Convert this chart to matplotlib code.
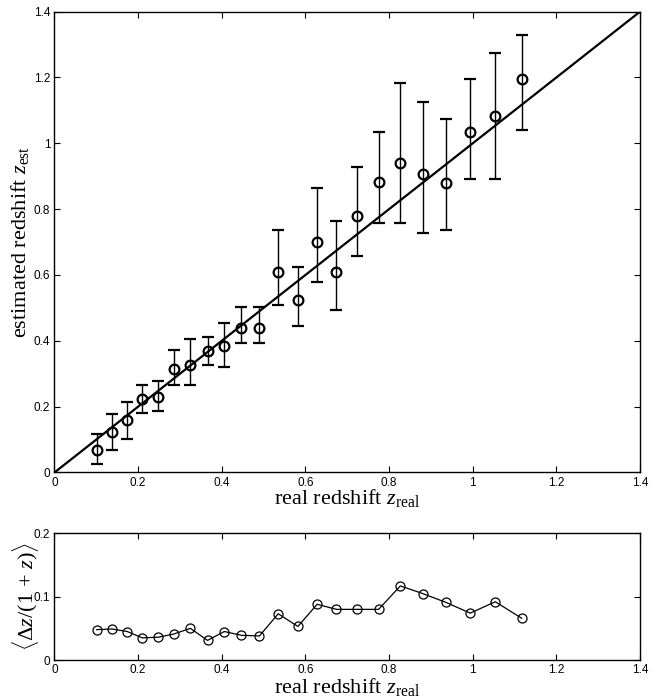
import matplotlib
matplotlib.use("Agg")
import matplotlib.pyplot as plt

plt.rcParams['mathtext.fontset'] = 'custom'
plt.rcParams['mathtext.rm'] = 'Liberation Serif'
plt.rcParams['mathtext.it'] = 'Liberation Serif:italic'

# real redshift bins
z_real = [0.101, 0.137, 0.174, 0.210, 0.248, 0.285, 0.325, 0.366, 0.406, 0.447,
          0.490, 0.535, 0.582, 0.628, 0.674, 0.723, 0.775, 0.827, 0.880, 0.936,
          0.994, 1.054, 1.117]
# estimated redshift and error bar ends
z_est = [0.067, 0.123, 0.158, 0.222, 0.229, 0.314, 0.328, 0.370, 0.384, 0.440,
         0.440, 0.609, 0.524, 0.701, 0.609, 0.778, 0.884, 0.941, 0.906, 0.878,
         1.034, 1.083, 1.196]
err_low = [0.025, 0.067, 0.103, 0.180, 0.186, 0.265, 0.265, 0.328, 0.320, 0.392,
           0.392, 0.510, 0.445, 0.580, 0.495, 0.659, 0.757, 0.757, 0.729, 0.736,
           0.892, 0.892, 1.041]
err_high = [0.118, 0.179, 0.214, 0.265, 0.279, 0.371, 0.406, 0.412, 0.454, 0.503,
            0.503, 0.736, 0.624, 0.863, 0.763, 0.928, 1.033, 1.183, 1.125, 1.075,
            1.195, 1.273, 1.330]
# mean relative error
rel_err = [0.048, 0.049, 0.045, 0.035, 0.036, 0.041, 0.050, 0.031, 0.045, 0.039,
           0.038, 0.073, 0.053, 0.088, 0.080, 0.080, 0.080, 0.117, 0.105, 0.091,
           0.074, 0.092, 0.066]

xticks = [0, 0.2, 0.4, 0.6, 0.8, 1.0, 1.2, 1.4]
xticklabels = ['0', '0.2', '0.4', '0.6', '0.8', '1', '1.2', '1.4']

tick_font = {'family': 'Liberation Sans', 'size': 8.5}
label_font = {'family': 'Liberation Serif', 'size': 16}

fig = plt.figure(figsize=(6.62, 6.98), dpi=100)
ax1 = fig.add_axes([0.0823, 0.3231, 0.8845, 0.6602])
ax2 = fig.add_axes([0.0823, 0.0544, 0.8845, 0.1815])

# top panel
lower = [z - lo for z, lo in zip(z_est, err_low)]
upper = [hi - z for z, hi in zip(z_est, err_high)]
ax1.plot([0, 1.4], [0, 1.4], color='black', lw=1.6)
ax1.errorbar(z_real, z_est, yerr=[lower, upper], fmt='o', color='black',
             mfc='none', mec='black', ms=7, mew=1.6, elinewidth=1.0,
             capsize=4, capthick=1.0)
ax1.set_xlim(0, 1.4)
ax1.set_ylim(0, 1.4)
ax1.set_yticks([0, 0.2, 0.4, 0.6, 0.8, 1.0, 1.2, 1.4])
ax1.set_yticklabels(['0', '0.2', '0.4', '0.6', '0.8', '1', '1.2', '1.4'], fontdict=tick_font)
ax1.set_xlabel(r'real redshift $z_{\mathrm{real}}$', fontdict=label_font, labelpad=-1)
ax1.set_ylabel(r'estimated redshift $z_{\mathrm{est}}$', fontdict=label_font, labelpad=2)

# bottom panel
ax2.plot(z_real, rel_err, '-o', color='black', mfc='none', mec='black',
         ms=6.5, mew=0.9, lw=0.9)
ax2.set_xlim(0, 1.4)
ax2.set_ylim(0, 0.2)
ax2.set_yticks([0, 0.1, 0.2])
ax2.set_yticklabels(['0', '0.1', '0.2'], fontdict=tick_font)
ax2.set_xlabel(r'real redshift $z_{\mathrm{real}}$', fontdict=label_font, labelpad=0)
ax2.set_ylabel(r'$\langle\Delta z/(1\,+\,z)\rangle$', fontdict=label_font, labelpad=-5)

for ax in (ax1, ax2):
    ax.set_xticks(xticks)
    ax.set_xticklabels(xticklabels, fontdict=tick_font)
    ax.tick_params(direction='in', top=True, right=True, length=4, width=0.8, pad=3)
    for s in ax.spines.values():
        s.set_linewidth(1.0)

fig.savefig('out.png', dpi=100)
